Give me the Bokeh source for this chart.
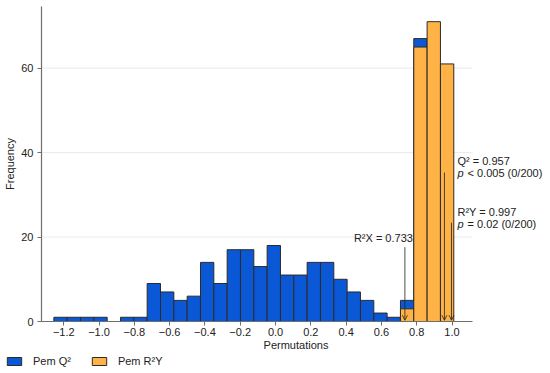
import numpy as np
from bokeh.plotting import figure
from bokeh.models import (Range1d, FixedTicker, CustomJSTickFormatter, Legend, LegendItem,
                          Arrow, OpenHead, Label, ColumnDataSource)
from bokeh.embed import file_html
from bokeh.resources import INLINE

# ---- data ----
bin_start = -1.256
bin_stop = 1.010
n_bins = 30
q2_counts = [1, 1, 1, 1, 0, 1, 1, 9, 7, 5, 6, 14, 9, 17, 17, 13, 18, 11, 11, 14,
             14, 10, 7, 5, 2, 1, 5, 67, 0, 0]
r2y_counts = [0, 0, 0, 0, 0, 0, 0, 0, 0, 0, 0, 0, 0, 0, 0, 0, 0, 0, 0, 0,
              0, 0, 0, 0, 0, 0, 3, 65, 71, 61]
x_ticks = [-1.2, -1.0, -0.8, -0.6, -0.4, -0.2, 0.0, 0.2, 0.4, 0.6, 0.8, 1.0]
y_ticks = [0, 20, 40, 60]
grid_levels = [20, 40, 60]
r2x_value = 0.733
q2_value = 0.957
r2y_value = 0.997
q2_text = ["Q\u00b2 = 0.957", "< 0.005 (0/200)"]
r2y_text = ["R\u00b2Y = 0.997", "= 0.02 (0/200)"]
r2x_text = "R\u00b2X = 0.733"
legend_labels = ["Pem Q\u00b2", "Pem R\u00b2Y"]

edges = np.linspace(bin_start, bin_stop, n_bins + 1)

FONT = "Liberation Sans"
BLUE = "#0a58d6"
ORANGE = "#ffb347"
OUTLINE = "#2b2b2b"

X_LO, X_HI = -1.326, 1.116   # visible axis extent

p = figure(width=550, height=353, output_backend="svg", toolbar_location=None,
           x_range=Range1d(X_LO, 1.558), y_range=Range1d(0, 74.6),
           min_border_top=6, min_border_left=41, min_border_right=0, min_border_bottom=32)
p.outline_line_color = None
p.background_fill_color = "white"
p.border_fill_color = "white"

# horizontal grid lines limited to the axis extent
p.segment(x0=[X_LO] * len(grid_levels), x1=[X_HI] * len(grid_levels),
          y0=grid_levels, y1=grid_levels, line_color="#e9e9e9", line_width=1)


def src(counts):
    idx = [i for i, c in enumerate(counts) if c > 0]
    return ColumnDataSource(dict(left=[edges[i] for i in idx], right=[edges[i + 1] for i in idx],
                                 top=[counts[i] for i in idx], bottom=[0] * len(idx)))


src_q2 = src(q2_counts)
src_r2y = src(r2y_counts)
p.quad(left="left", right="right", top="top", bottom="bottom", source=src_q2,
       fill_color=BLUE, line_color=OUTLINE, line_width=1)
p.quad(left="left", right="right", top="top", bottom="bottom", source=src_r2y,
       fill_color=ORANGE, line_color=OUTLINE, line_width=1)

# axes
for ax in (p.xaxis[0], p.yaxis[0]):
    ax.axis_line_color = "#6e6e6e"
    ax.axis_line_width = 1.2
    ax.major_tick_line_color = "#6e6e6e"
    ax.major_tick_out = 4
    ax.major_tick_in = 0
    ax.minor_tick_line_color = None
    ax.major_label_text_font = FONT
    ax.major_label_text_font_size = "11px"
    ax.major_label_text_color = "#222222"
    ax.axis_label_text_font = FONT
    ax.axis_label_text_font_size = "11px"
    ax.axis_label_text_font_style = "normal"
    ax.axis_label_text_color = "#222222"

p.xaxis.ticker = FixedTicker(ticks=x_ticks)
p.xaxis.formatter = CustomJSTickFormatter(code="return tick.toFixed(1).replace('-', '\\u2212');")
p.xaxis.axis_label = "Permutations"
p.xaxis.major_label_standoff = 2
p.xaxis.axis_label_standoff = 0
p.xaxis.bounds = (X_LO, X_HI)

p.yaxis.ticker = FixedTicker(ticks=y_ticks)
p.yaxis.axis_label = "Frequency"
p.yaxis.major_label_standoff = 4
p.yaxis.axis_label_standoff = 2

p.xgrid.grid_line_color = None
p.ygrid.grid_line_color = None

# arrows
for xv, ytop in ((r2x_value, 17.6), (q2_value, 35.3), (r2y_value, 23.4)):
    p.add_layout(Arrow(end=OpenHead(size=5, line_width=1, line_color="#222222", line_alpha=0.8),
                       x_start=xv, y_start=ytop, x_end=xv, y_end=0.3,
                       line_color="#222222", line_width=1, line_alpha=0.8))

lab = dict(text_font=FONT, text_font_size="11px", text_color="#222222")
p.add_layout(Label(x=r2x_value, y=17.6, x_offset=8, y_offset=3, text=r2x_text,
                   text_align="right", text_baseline="bottom", **lab))

p.add_layout(Label(x=r2y_value, y=38.1, x_offset=6, text=q2_text[0],
                   text_align="left", text_baseline="middle", **lab))
p.add_layout(Label(x=r2y_value, y=35.1, x_offset=6, text="p", text_font_style="italic",
                   text_align="left", text_baseline="middle", **lab))
p.add_layout(Label(x=r2y_value, y=35.1, x_offset=16, text=q2_text[1],
                   text_align="left", text_baseline="middle", **lab))

p.add_layout(Label(x=r2y_value, y=25.9, x_offset=6, text=r2y_text[0],
                   text_align="left", text_baseline="middle", **lab))
p.add_layout(Label(x=r2y_value, y=23.1, x_offset=6, text="p", text_font_style="italic",
                   text_align="left", text_baseline="middle", **lab))
p.add_layout(Label(x=r2y_value, y=23.1, x_offset=16, text=r2y_text[1],
                   text_align="left", text_baseline="middle", **lab))

# ---- legend strip below the chart (same data, ranges placed so nothing shows) ----
pl = figure(width=550, height=20, output_backend="svg", toolbar_location=None,
            x_axis_type=None, y_axis_type=None, x_range=Range1d(100, 101),
            y_range=Range1d(100, 101), min_border=0)
pl.outline_line_color = None
pl.grid.grid_line_color = None
lq = pl.quad(left="left", right="right", top="top", bottom="bottom", source=src_q2,
             fill_color=BLUE, line_color=OUTLINE, line_width=1)
lr = pl.quad(left="left", right="right", top="top", bottom="bottom", source=src_r2y,
             fill_color=ORANGE, line_color=OUTLINE, line_width=1)
legend = Legend(items=[LegendItem(label=legend_labels[0], renderers=[lq]),
                       LegendItem(label=legend_labels[1], renderers=[lr])],
                orientation="horizontal", location=(5, 6),
                glyph_width=18, glyph_height=10, label_height=10, label_standoff=10,
                spacing=19, padding=0, margin=0, border_line_color=None,
                background_fill_alpha=0, label_text_font=FONT, label_text_font_size="11px",
                label_text_color="#222222")
pl.add_layout(legend, "center")

open("out.html", "w").write(file_html([p, pl], INLINE))
